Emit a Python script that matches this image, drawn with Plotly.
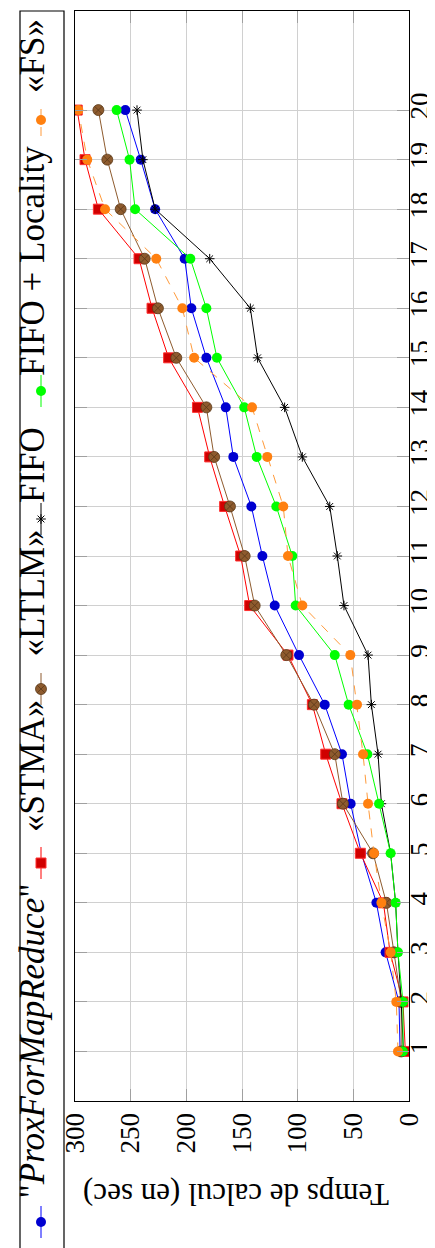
import plotly.graph_objects as go

# ---------------- data ----------------
idx = list(range(1, 21))
prox = [8, 9, 21, 29.3, 42.8, 52.4, 60.2, 75.7, 98.8, 120.6, 131.7, 141.6, 157.8, 164.6, 182, 195.5, 201.5, 228, 241, 254.8]
stma = [3.3, 5.4, 17, 23, 43.7, 60.2, 74.8, 86.8, 108.7, 143.1, 151.2, 165.6, 179, 190, 215.9, 230.8, 242.5, 279, 291, 298]
ltlm = [7, 7, 13.5, 20.3, 32.3, 59.3, 66.7, 85.3, 110.2, 138.6, 147.6, 160.8, 175, 182, 209, 225.5, 237.4, 259, 271, 279]
fifo = [5, 7, 9.9, 12, 16.5, 24.8, 27.8, 33.8, 36.8, 58.4, 64.4, 71.2, 95.8, 111.7, 136, 142.5, 179, 228, 239, 244.3]
fifo_loc = [5.4, 5.4, 9.9, 12, 16.5, 26.9, 37.4, 54.2, 66.7, 101.8, 104.8, 119.2, 136.8, 148, 172.5, 182, 196.4, 246, 251, 262.6]
fs = [9.9, 11.4, 16.5, 24.8, 31.4, 36.8, 41.3, 46.7, 52.7, 95.8, 108.7, 112.9, 127.3, 141, 193, 203.6, 227, 273, 289, 297]

names = ['"<i>ProxForMapReduce</i>"', "«STMA»", "«LTLM»", "FIFO", "FIFO + Locality", "«FS»"]
value_ticks = [0, 50, 100, 150, 200, 250, 300]
axis_title = "Temps de calcul (en sec)"

W, H = 435, 1248
FONT = "Liberation Serif"

styles = [
    dict(line=dict(color="#0000ff", width=1), marker=dict(symbol="circle", size=10, color="#0000d0")),
    dict(line=dict(color="#ff0000", width=1), marker=dict(symbol="square", size=10, color="#d00000", line=dict(color="#ff3030", width=1))),
    dict(line=dict(color="#8e5b2e", width=1), marker=dict(symbol="circle-x", size=11, color="#8e5b2e", line=dict(color="#5a3818", width=0.8))),
    dict(line=dict(color="#000000", width=1), marker=dict(symbol="asterisk-open", size=8, color="#000000", line=dict(color="#000000", width=1))),
    dict(line=dict(color="#00ff00", width=1), marker=dict(symbol="circle", size=10, color="#00ff00")),
    dict(line=dict(color="#ff9a3a", width=1, dash="dash"), marker=dict(symbol="circle", size=10, color="#ff8010")),
]
series = [prox, stma, ltlm, fifo, fifo_loc, fs]

fig = go.Figure()
for s, st in zip(series, styles):
    fig.add_trace(go.Scatter(x=s, y=idx, mode="lines+markers", line=st["line"], marker=st["marker"],
                             showlegend=False, xaxis="x", yaxis="y"))

# ---------------- manual rotated legend (pixel overlay axes) ----------------
leg_marker_y = [1214, 855, 681, 511, 383, 112]
leg_text_bottom = [1193, 826, 651, 497, 370, 87]
leg_x = 33
for st, my in zip(styles, leg_marker_y):
    fig.add_trace(go.Scatter(x=[leg_x, leg_x, leg_x], y=[my + 16, my, my - 16], mode="lines",
                             line=st["line"], showlegend=False, xaxis="x2", yaxis="y2", hoverinfo="skip"))
    fig.add_trace(go.Scatter(x=[leg_x], y=[my], mode="markers", marker=st["marker"],
                             showlegend=False, xaxis="x2", yaxis="y2", hoverinfo="skip"))

annotations = []
for nm, tb in zip(names, leg_text_bottom):
    annotations.append(dict(x=24, y=tb, xref="x2", yref="y2", text=nm, showarrow=False, textangle=-90,
                            xanchor="center", yanchor="bottom", font=dict(family=FONT, size=35, color="black")))
annotations.append(dict(x=228, y=1187, xref="x2", yref="y2", text=axis_title, showarrow=False, textangle=180,
                        xanchor="center", yanchor="middle", font=dict(family=FONT, size=31, color="black")))

shapes = [dict(type="rect", xref="x2", yref="y2", x0=12, x1=56, y0=3, y1=1244, line=dict(color="black", width=1.2))]

L, R, T, B = 67, 401, 3, 1093
fig.update_layout(
    width=W, height=H, margin=dict(l=0, r=0, t=0, b=0),
    paper_bgcolor="white", plot_bgcolor="rgba(0,0,0,0)",
    font=dict(family=FONT, color="black"),
    xaxis=dict(domain=[L / W, R / W], range=[300, 0], tickvals=value_ticks, tickangle=-90,
               showgrid=True, gridcolor="#d0d0d0", gridwidth=1, zeroline=False,
               showline=True, linecolor="black", linewidth=1.2, mirror="ticks",
               ticks="inside", ticklen=12, tickcolor="#a0a0a0", tickwidth=1,
               tickfont=dict(family=FONT, size=27), automargin=False, anchor="y"),
    yaxis=dict(domain=[(H - B) / H, (H - T) / H], range=[0, 22], tickvals=idx, side="right", tickangle=-90,
               showgrid=True, gridcolor="#d0d0d0", gridwidth=1, zeroline=False,
               showline=True, linecolor="black", linewidth=1.2, mirror="ticks",
               ticks="inside", ticklen=12, tickcolor="#a0a0a0", tickwidth=1,
               ticklabelstandoff=-14,
               tickfont=dict(family=FONT, size=27), automargin=False, anchor="x"),
    xaxis2=dict(domain=[0, 1], range=[0, W], visible=False, anchor="y2", fixedrange=True),
    yaxis2=dict(domain=[0, 1], range=[H, 0], visible=False, anchor="x2", fixedrange=True),
    annotations=annotations, shapes=shapes,
)

fig.write_html("out.html")
